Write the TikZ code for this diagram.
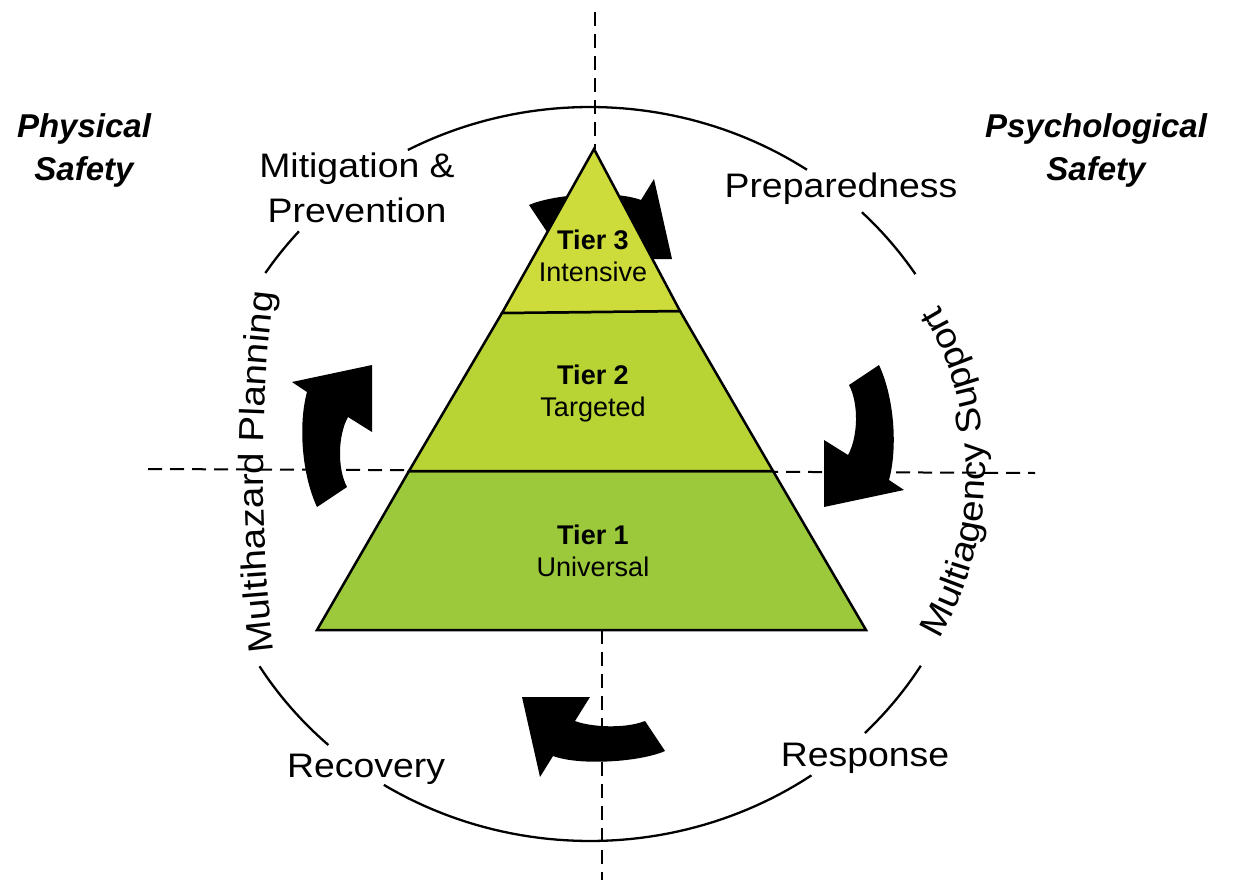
\documentclass[tikz,border=0pt]{standalone}
\usepackage{fontspec}
\setmainfont{Liberation Sans}
\newfontfamily\lblfont[FakeStretch=1.1]{Liberation Sans}
\usetikzlibrary{decorations.text}
\definecolor{tierthree}{RGB}{205,220,58}
\definecolor{tiertwo}{RGB}{183,211,52}
\definecolor{tierone}{RGB}{155,201,59}
\tikzset{
  guide/.style={line width=2pt, dash pattern=on 14pt off 8pt},
  ring/.style={line width=2.3pt},
  tierbox/.style={draw=black, line width=2.5pt, line join=miter},
  blockarrow/.style={fill=black, draw=none},
  cyclelabel/.style={font=\lblfont\fontsize{34}{45}\selectfont, align=center, inner sep=0pt},
  safetylabel/.style={font=\bfseries\itshape\fontsize{33}{43}\selectfont, align=center, inner sep=0pt},
  tierlabel/.style={font=\fontsize{27}{32}\selectfont, align=center, inner sep=0pt},
}
\begin{document}
\begin{tikzpicture}[x=1pt,y=1pt]
\useasboundingbox (0,0) rectangle (1247,-880);
\fill[white] (0,0) rectangle (1247,-880);

% dashed guide lines
\coordinate (vtop) at (595,-12);
\coordinate (vapex) at (595,-149);
\coordinate (vbase) at (602,-630);
\coordinate (vbot) at (602,-880);
\coordinate (hleft) at (148,-469);
\coordinate (hright) at (1035,-473);
\draw[guide] (vtop) -- (vapex);
\draw[guide] (vbase) -- (vbot);
\draw[guide] (hleft) -- (hright);

% outer ring, broken where labels sit
\draw[ring] plot[domain=56:118, samples=50] ({590+388*cos(\x)},{-474+367*sin(\x)});
\draw[ring] plot[domain=138.6:146.8, samples=10] ({590+388*cos(\x)},{-474+367*sin(\x)});
\draw[ring] plot[domain=211.6:227.6, samples=15] ({590+388*cos(\x)},{-474+367*sin(\x)});
\draw[ring] plot[domain=237.9:304.8, samples=50] ({590+388*cos(\x)},{-474+367*sin(\x)});
\draw[ring] plot[domain=315.1:328.5, samples=12] ({590+388*cos(\x)},{-474+367*sin(\x)});
\draw[ring] plot[domain=33:45.5, samples=12] ({590+388*cos(\x)},{-474+367*sin(\x)});

% curved block arrows (clockwise cycle)
\fill[blockarrow] (672,-259) -- (604,-259) -- (619,-235) .. controls (604,-229) and (569,-227) .. (549,-235) -- (529,-205) .. controls (554,-194) and (614,-190) .. (641,-200) -- (654,-179) -- cycle;
\fill[blockarrow] (317,-507) .. controls (302,-475) and (298,-425) .. (307,-392) -- (292,-382) -- (372,-365) -- (372,-432) -- (348,-417) .. controls (338,-435) and (337,-468) .. (347,-487) -- cycle;
\fill[blockarrow] (879,-365) .. controls (894,-397) and (898,-447) .. (889,-480) -- (904,-490) -- (824,-507) -- (824,-440) -- (848,-455) .. controls (858,-437) and (859,-404) .. (849,-385) -- cycle;
\fill[blockarrow] (522,-697) -- (590,-697) -- (575,-721) .. controls (590,-727) and (625,-729) .. (645,-721) -- (665,-751) .. controls (640,-762) and (580,-766) .. (553,-756) -- (540,-777) -- cycle;

% pyramid
\filldraw[tierbox, fill=tierone] (409,-471) -- (773,-471) -- (866,-630) -- (317,-630) -- cycle;
\filldraw[tierbox, fill=tiertwo] (502,-313) -- (680,-311) -- (773,-471) -- (409,-471) -- cycle;
\filldraw[tierbox, fill=tierthree] (594,-149) -- (680,-311) -- (502,-313) -- cycle;

\node[tierlabel] (t3) at (593,-256) {\textbf{Tier 3}\\Intensive};
\node[tierlabel] (t2) at (593,-394) {\textbf{Tier 2}\\Targeted};
\node[tierlabel] (t1) at (593,-551) {\textbf{Tier 1}\\Universal};

% cycle labels
\node[cyclelabel] (mit) at (357,-188) {Mitigation \&\\Prevention};
\node[cyclelabel] (prep) at (841,-189) {Preparedness};
\node[cyclelabel] (rec) at (366,-769) {Recovery};
\node[cyclelabel] (resp) at (865,-758) {Response};

\node[safetylabel] (phys) at (84,-150) {Physical\\Safety};
\node[safetylabel] (psych) at (1096,-150) {Psychological\\Safety};

% curved labels
\path[decorate, decoration={text along path, text align=center,
  text={|\lblfont\fontsize{35}{40}\selectfont|Multiagency Support}}]
  (660,-472) ++(-36:325) arc[start angle=-36, end angle=36, radius=325];
\path[decorate, decoration={text along path, text align=center,
  text={|\lblfont\fontsize{35}{40}\selectfont|Multihazard Planning}}]
  (1763,-472) ++(187.5:1500) arc[start angle=187.5, end angle=172.5, radius=1500];
\end{tikzpicture}
\end{document}
